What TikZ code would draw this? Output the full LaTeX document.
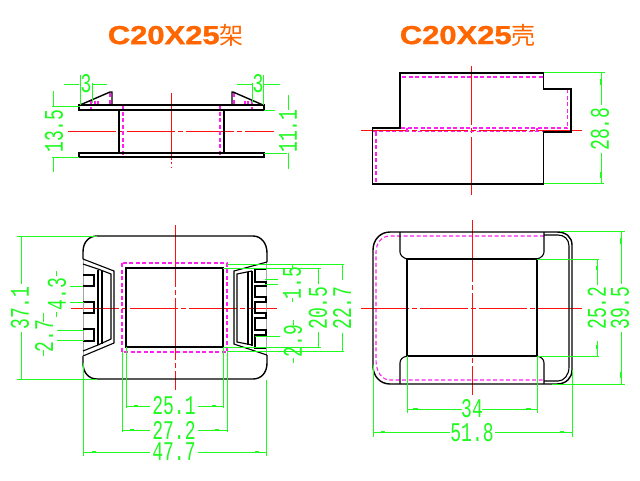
\documentclass[tikz,border=0pt]{standalone}
\usepackage{fontspec}
\setmonofont{Liberation Mono}
\setmainfont{Liberation Sans}
\newfontfamily\cjkfont{Noto Sans CJK SC}
\newfontfamily\titlefont[FakeBold=1.2]{Liberation Sans Bold}
\definecolor{dimgreen}{HTML}{1FFA1F}
\definecolor{cenred}{HTML}{FF1010}
\definecolor{hidmag}{HTML}{FF20F0}
\definecolor{titleor}{HTML}{FF6600}
\newcommand{\dimlabel}[1]{\scalebox{.67}[1]{\fontsize{27}{27}\selectfont\ttfamily #1}}
\newcommand{\titlelabel}[2]{\scalebox{1.19}[1]{\fontsize{26}{26}\selectfont\titlefont #1}\kern-.5pt{\fontsize{24}{24}\selectfont\cjkfont #2}}
\tikzset{
  x=1pt,y=-1pt,
  outline/.style={draw=black,line width=1.4pt,line join=miter},
  thinout/.style={draw=black,line width=1.1pt},
  thick edge/.style={draw=black,line width=2.4pt},
  grayline/.style={draw=black!35,line width=.9pt},
  hidden/.style={draw=hidmag,line width=1.1pt,dash pattern=on 4pt off 2.5pt},
  redline/.style={draw=cenred,line width=1pt},
  centerl/.style={redline,dash pattern=on 48pt off 3pt on 5pt off 3pt},
  dimln/.style={draw=dimgreen,line width=1pt},
  blob/.style={draw=dimgreen,line width=1.8pt},
  dimtext/.style={text=dimgreen,inner sep=0pt,font=\ttfamily},
  vdim/.style={dimtext,rotate=90},
  titletext/.style={text=titleor,inner sep=0pt},
}
\begin{document}
\begin{tikzpicture}
\useasboundingbox (0,0) rectangle (640,480);
\fill[white] (0,0) rectangle (640,480);

% titles
\node[titletext] (title1) at (175.5,35) {\titlelabel{C20X25}{架}};
\node[titletext] (title2) at (467.5,35) {\titlelabel{C20X25}{壳}};

%% ---- top left view
\draw[centerl] (68,131) -- (274,131);
\draw[redline] (171,93) -- (171,160);
\draw[redline] (171,162) -- (171,164) (171,167) -- (171,168);
\draw[hidden] (123,105) -- (123,157) (220,105) -- (220,157);
\draw[hidden] (91,100) -- (91,110) (95,101) -- (95,105) (98,101) -- (98,105) (110,93) -- (110,105);
\draw[hidden] (234,93) -- (234,105) (245,101) -- (245,105) (248,101) -- (248,105) (252,100) -- (252,110);
\draw[outline] (79,105) rectangle (264,110);
\draw[outline] (79,153) rectangle (264,157);
\draw[outline] (119,110) -- (119,153) (224,110) -- (224,153);
\draw[outline] (80,105) -- (110,92) -- (112,92) -- (112,105);
\draw[outline] (232,105) -- (232,92) -- (233,92) -- (263,105);
% dims top-left
\draw[dimln] (80,75) -- (80,105) (92,83) -- (92,103) (64,84) -- (79,84) (92,84) -- (107,84);
\draw[dimln] (252,83) -- (252,103) (263,75) -- (263,105) (237,84) -- (252,84) (263,84) -- (280,84);
\draw[dimln] (52,106) -- (80,106) (52,157) -- (79,157) (53,91) -- (53,106) (53,157) -- (53,172);
\draw[dimln] (264,110.7) -- (275,110.7) (264,153) -- (287,153) (288,95) -- (288,110) (288,153) -- (288,169);
\node[dimtext] (d3a) at (86,84) {\dimlabel{3}};
\node[dimtext] (d3b) at (258,84) {\dimlabel{3}};
\node[vdim] (d135) at (54,131) {\dimlabel{13.5}};
\node[vdim] (d111) at (288,131) {\dimlabel{11.1}};

%% ---- top right view
\draw[centerl] (361,130) -- (582,130);
\draw[redline] (471,66) -- (471,125) (471,128) -- (471,133) (471,137) -- (471,195);
\draw[hidden] (402,77) -- (543,77);
\draw[hidden] (567.5,89) -- (567.5,128) -- (400,128);
\draw[hidden] (372.5,131.5) -- (543,131.5);
\draw[hidden] (376,132) -- (376,184);
\draw[hidden] (407,128) -- (407,132) (537,128) -- (537,132);
\draw[outline] (400,73) -- (543.5,73) -- (543.5,89) -- (571,89) -- (571,132) -- (543.5,132) -- (543.5,184) -- (372.5,184) -- (372.5,128) -- (400,128) -- cycle;
\draw[dimln] (543.5,72.5) -- (605,72.5) (544,183) -- (604,183) (601,73) -- (601,105) (601,153) -- (601,183);
\draw[blob] (601,79) -- (601,85) (601,172) -- (601,178);
\node[vdim] (d288) at (600,129) {\dimlabel{28.8}};

%% ---- bottom left view
\draw[hidden] (122,263) rectangle (227,352);
\draw[centerl] (71,308) -- (277,308);
\draw[redline,dash pattern=on 62pt off 3pt on 5pt off 3pt] (175,225) -- (175,390);
\draw[outline] (126,268) rectangle (223,347);
\draw[outline] (83,259) -- (83,252) .. controls (83,242) and (89,236) .. (97,236) -- (253,236) .. controls (261,236) and (267,243) .. (267,253) -- (267,262);
\draw[outline] (83,356) -- (83,363) .. controls (83,373) and (89,379) .. (97,379) -- (253,379) .. controls (261,379) and (267,373) .. (267,363) -- (267,355);
\draw[grayline] (83,259) -- (83,357) (266,262) -- (266,355);
% left clip
\draw[thinout] (83,259) -- (114,271) -- (114,343) -- (83,356);
\draw[thinout] (83,264) -- (98,269) -- (111,274) -- (111,339) -- (98,345) -- (83,351);
\draw[thinout] (98,270) -- (98,345) (102,270) -- (102,344);
\draw[thinout] (83,275) -- (94,275) -- (94,286) -- (83,286) (83,302) -- (94,302) -- (94,313) -- (83,313) (83,329) -- (94,329) -- (94,341) -- (83,341);
% right clip
\draw[thinout] (267,262) -- (234,271) -- (234,344) -- (267,355);
\draw[thinout] (252,271) -- (237,274) -- (237,342) -- (252,345);
\draw[thinout] (248,272) -- (248,345) (252,271) -- (252,346);
\draw[thinout] (266,269) -- (255,269) -- (255,282) -- (266,282) -- (266,286) -- (255,286) -- (255,297) -- (266,297) -- (266,302) -- (255,302) -- (255,313) -- (266,313) -- (266,318) -- (255,318) -- (255,330) -- (266,330) -- (266,335) -- (255,335) -- (255,348) -- (266,348);
% left dims
\draw[dimln] (17,236) -- (97,236) (17,379) -- (97,379) (21,236) -- (21,284) (21,332) -- (21,379);
\draw[dimln] (70,286) -- (83,286) (70,302) -- (84,302) (57,330) -- (84,330) (57,340) -- (84,340);
\draw[dimln] (56,271) -- (56,276) (56,312) -- (56,317) (43,313) -- (43,322) (43,350) -- (43,356);
\node[vdim] (d371) at (20,308) {\dimlabel{37.1}};
\node[vdim] (d43) at (57,294) {\dimlabel{4.3}};
\node[vdim] (d27) at (44,336) {\dimlabel{2.7}};
% right dims
\draw[dimln] (265,279) -- (278,279) (265,284) -- (278,284) (255,336) -- (280,336);
\draw[dimln] (292,264) -- (292,268) (292,298) -- (292,302) (293,320) -- (293,325) (293,358) -- (293,363);
\draw[dimln] (223,268) -- (321,268) (223,347) -- (321,347) (318,268) -- (318,284) (318,332) -- (318,347);
\draw[dimln] (227,264) -- (344,264) (227,351.5) -- (344,351.5) (342,264) -- (342,280) (342,333) -- (342,351);
\node[vdim] (d15) at (292,283) {\dimlabel{1.5}};
\node[vdim] (d29) at (293,341) {\dimlabel{2.9}};
\node[vdim] (d205) at (318,308) {\dimlabel{20.5}};
\node[vdim] (d227) at (342,308) {\dimlabel{22.7}};
% bottom dims
\draw[dimln] (126,347) -- (126,408) (223,347) -- (223,408) (126,406) -- (150,406) (198,406) -- (223,406);
\draw[dimln] (122,352) -- (122,432) (227,352) -- (227,432) (122,430) -- (150,430) (198,430) -- (227,430);
\draw[dimln] (83,363) -- (83,456) (266,380) -- (266,456) (83,452) -- (150,452) (198,452) -- (266,452);
\draw[blob] (134,406) -- (138,406) (212,406) -- (216,406) (130,430) -- (134,430) (215,430) -- (219,430) (92,452) -- (96,452) (255,452) -- (259,452);
\node[dimtext] (d251) at (174,406) {\dimlabel{25.1}};
\node[dimtext] (d272) at (174,430) {\dimlabel{27.2}};
\node[dimtext] (d477) at (174,452) {\dimlabel{47.7}};

%% ---- bottom right view
\draw[hidden] (544,236) -- (390,236) .. controls (382,236) and (376,243) .. (376,252) -- (376,360) .. controls (376,372) and (382,380) .. (390,380) -- (544,380);
\draw[centerl] (361,308) -- (582,308);
\draw[redline,dash pattern=on 62pt off 3pt on 5pt off 3pt] (472,220) -- (472,395);
\draw[outline] (390,232) -- (557,232) .. controls (566,232) and (572,237) .. (572,245) -- (572,370) .. controls (572,378) and (566,384) .. (557,384) -- (390,384) .. controls (380,384) and (373,376) .. (373,366) -- (373,250) .. controls (373,240) and (380,232) .. (390,232) -- cycle;
\draw[thinout] (544,235) -- (558,235) .. controls (564,235) and (569,239) .. (569,246) -- (569,367) .. controls (569,375) and (564,381) .. (558,381) -- (544,381);
\draw[outline] (407,259) rectangle (537,356);
\draw[thick edge] (407,259) -- (537,259) (407,356) -- (537,356);
\draw[thinout] (400,232) -- (400,252) .. controls (400,255) and (403,258) .. (407,259);
\draw[thinout] (544,232) -- (544,252) .. controls (544,255) and (541,258) .. (537,259);
\draw[thinout] (400,384) -- (400,363) .. controls (400,359) and (403,357) .. (407,356);
\draw[thinout] (544,384) -- (544,363) .. controls (544,359) and (541,357) .. (537,356);
\draw[dimln] (537,259) -- (599,259) (537,356) -- (599,356) (597,259) -- (597,285) (597,341) -- (597,356);
\draw[dimln] (560,231.5) -- (625,231.5) (552,384) -- (625,384) (621,232) -- (621,284) (621,332) -- (621,384);
\draw[dimln] (407,356) -- (407,413) (537,356) -- (537,413) (407,409) -- (462,409) (482,409) -- (537,409);
\draw[dimln] (373,365) -- (373,437) (572,370) -- (572,437) (373,432) -- (450,432) (495,432) -- (572,432);
\draw[blob] (597,266) -- (597,270) (597,345) -- (597,349) (621,238) -- (621,244) (621,372) -- (621,378) (413,409) -- (418,409) (526,409) -- (531,409) (381,432) -- (385,432) (560,432) -- (564,432);
\node[vdim] (d252) at (597,308) {\dimlabel{25.2}};
\node[vdim] (d395) at (620,308) {\dimlabel{39.5}};
\node[dimtext] (d34) at (472,409) {\dimlabel{34}};
\node[dimtext] (d518) at (472,433) {\dimlabel{51.8}};
\end{tikzpicture}
\end{document}
